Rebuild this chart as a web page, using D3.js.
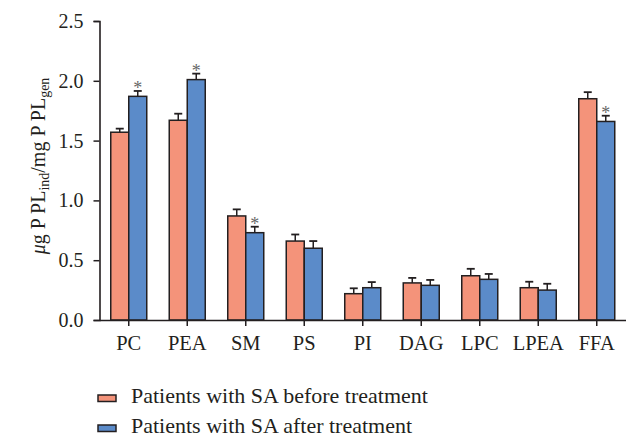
<!DOCTYPE html>
<html><head><meta charset="utf-8">
<script src="https://cdn.jsdelivr.net/npm/d3@7"></script>
<style>body{margin:0;background:#fff}svg{display:block}svg text{font-family:"Liberation Serif","DejaVu Serif",serif}</style>
</head><body>
<svg id="c" width="641" height="446"></svg>
<script>
const categories = ["PC","PEA","SM","PS","PI","DAG","LPC","LPEA","FFA"];
const seriesNames = ["Patients with SA before treatment","Patients with SA after treatment"];
const beforeVals = [1.57,1.67,0.87,0.66,0.22,0.31,0.37,0.27,1.85];
const beforeErr  = [0.03,0.055,0.055,0.055,0.045,0.042,0.058,0.05,0.055];
const afterVals  = [1.87,2.01,0.73,0.60,0.27,0.29,0.34,0.25,1.66];
const afterErr   = [0.045,0.05,0.05,0.06,0.047,0.045,0.045,0.053,0.048];
const afterStar  = [true,true,true,false,false,false,false,false,true];
const yTicks = [0,0.5,1.0,1.5,2.0,2.5];
const colors = ["#F4937A","#5B8BC9"];

const svg = d3.select("#c");
const font = '"Liberation Serif","DejaVu Serif",serif';
const x = d3.scaleBand().domain(categories).range([99.5,626]).paddingInner(0).paddingOuter(0);
const y = d3.scaleLinear().domain([0,2.5]).range([320,21]);
const bw = 18;

const series = [
  {vals: beforeVals, err: beforeErr, color: colors[0], off: -bw, star: categories.map(()=>false)},
  {vals: afterVals, err: afterErr, color: colors[1], off: 0, star: afterStar}
];

series.forEach(s => {
  const g = svg.append("g");
  categories.forEach((c,i) => {
    const cx = x(c) + x.bandwidth()/2 + s.off;
    const top = y(s.vals[i] + s.err[i]);
    g.append("line").attr("x1",cx+bw/2).attr("x2",cx+bw/2)
      .attr("y1",y(s.vals[i])).attr("y2",top).attr("stroke","#231f20").attr("stroke-width",1.5);
    g.append("line").attr("x1",cx+bw/2-4).attr("x2",cx+bw/2+4)
      .attr("y1",top).attr("y2",top).attr("stroke","#231f20").attr("stroke-width",1.8);
    g.append("rect").attr("x",cx).attr("y",y(s.vals[i])).attr("width",bw)
      .attr("height",y(0)-y(s.vals[i])).attr("fill",s.color)
      .attr("stroke","#231f20").attr("stroke-width",1.5);
    if (s.star[i]) {
      g.append("text").attr("x",cx+bw/2).attr("y",top+3.5).attr("text-anchor","middle")
        .style("font-family",font).attr("font-size",18).attr("fill","#666").text("*");
    }
  });
});

const yAxis = svg.append("g").attr("transform","translate(99.5,0)")
  .call(d3.axisLeft(y).tickValues(yTicks).tickFormat(d3.format(".1f")).tickSize(6).tickPadding(10));
const xAxis = svg.append("g").attr("transform","translate(0,320)")
  .call(d3.axisBottom(x).tickSize(6).tickPadding(9));
[yAxis,xAxis].forEach(a=>{
  a.attr("font-family",null);
  a.select(".domain").attr("stroke","#231f20").attr("stroke-width",1.6);
  a.selectAll(".tick line").attr("stroke","#231f20").attr("stroke-width",1.5);
  a.selectAll("text").style("font-family",font).attr("font-size",20.5).attr("fill","#231f20");
});
yAxis.selectAll("text").attr("font-size",20);
xAxis.select(".domain").attr("d","M99.5,0.5H626");

// y label
const yl = svg.append("text").attr("transform","translate(45,166) rotate(-90)")
  .attr("text-anchor","middle").style("font-family",font).attr("font-size",20).attr("fill","#231f20");
yl.append("tspan").attr("font-style","italic").text("μ");
yl.append("tspan").text("g P PL");
yl.append("tspan").attr("font-size",14).attr("dy",4).text("ind");
yl.append("tspan").attr("dy",-4).text("/mg P PL");
yl.append("tspan").attr("font-size",14).attr("dy",4).text("gen");

// legend
const leg = svg.append("g");
seriesNames.forEach((n,i)=>{
  const yy = 395 + i*30;
  leg.append("rect").attr("x",98).attr("y",yy).attr("width",18).attr("height",6.5)
    .attr("fill",colors[i]).attr("stroke","#231f20").attr("stroke-width",1.5);
  leg.append("text").attr("x",131).attr("y",yy+8).style("font-family",font)
    .attr("font-size",22).attr("fill","#231f20").text(n);
});
</script>
</body></html>
